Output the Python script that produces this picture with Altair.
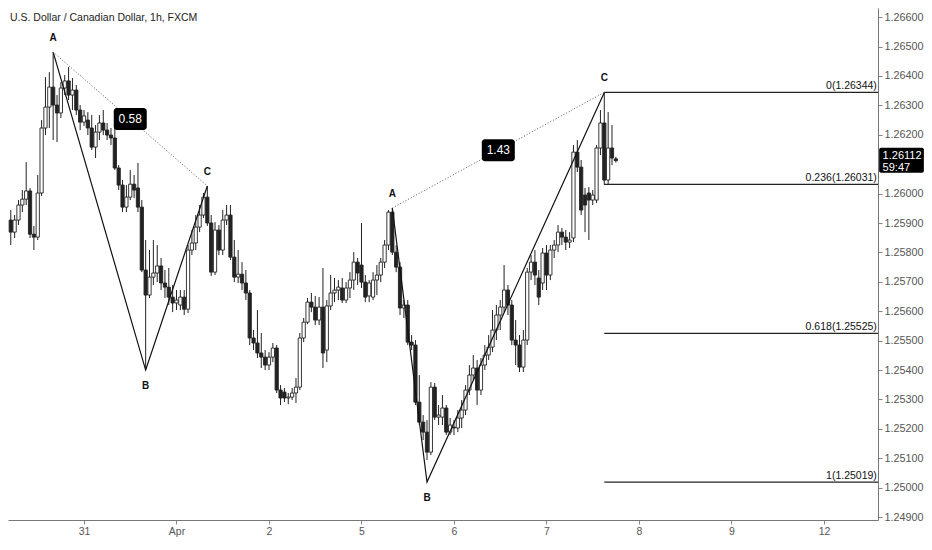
import altair as alt
import pandas as pd

# ---------------- data ----------------
TITLE = "U.S. Dollar / Canadian Dollar, 1h, FXCM"
K0 = 4  # index of first visible hourly candle

opens = [1.25903, 1.25910, 1.25869, 1.25910, 1.25961, 1.25981, 1.26009, 1.25862, 1.25852, 1.26002,
         1.26223, 1.26294, 1.26362, 1.26301, 1.26274, 1.26359, 1.26383, 1.26335, 1.26352, 1.26284,
         1.26243, 1.26250, 1.26223, 1.26158, 1.26209, 1.26240, 1.26216, 1.26199, 1.26189, 1.26087,
         1.26029, 1.25954, 1.25988, 1.26032, 1.26019, 1.25954, 1.25740, 1.25655, 1.25716, 1.25730,
         1.25754, 1.25696, 1.25682, 1.25648, 1.25628, 1.25621, 1.25648, 1.25607, 1.25808, 1.25832,
         1.25886, 1.25927, 1.25988, 1.25900, 1.25733, 1.25876, 1.25808, 1.25910, 1.25927, 1.25784,
         1.25716, 1.25726, 1.25696, 1.25662, 1.25509, 1.25492, 1.25458, 1.25444, 1.25417, 1.25444,
         1.25475, 1.25332, 1.25325, 1.25305, 1.25308, 1.25322, 1.25342, 1.25509, 1.25563, 1.25631,
         1.25614, 1.25570, 1.25614, 1.25468, 1.25618, 1.25662, 1.25672, 1.25679, 1.25638, 1.25679,
         1.25706, 1.25767, 1.25757, 1.25699, 1.25652, 1.25648, 1.25706, 1.25723, 1.25767, 1.25825,
         1.25937, 1.25801, 1.25750, 1.25611, 1.25621, 1.25495, 1.25485, 1.25291, 1.25223, 1.25189,
         1.25121, 1.25342, 1.25240, 1.25240, 1.25271, 1.25189, 1.25206, 1.25203, 1.25237, 1.25264,
         1.25332, 1.25383, 1.25407, 1.25332, 1.25417, 1.25451, 1.25478, 1.25536, 1.25587, 1.25614,
         1.25672, 1.25621, 1.25502, 1.25485, 1.25410, 1.25502, 1.25733, 1.25767, 1.25713, 1.25696,
         1.25798, 1.25723, 1.25808, 1.25825, 1.25869, 1.25852, 1.25835, 1.25849, 1.26141, 1.26090,
         1.25995, 1.26002, 1.25978, 1.25978, 1.26155, 1.26240, 1.26046, 1.26155, 1.26118]

closes = [1.25910, 1.25869, 1.25910, 1.25961, 1.25981, 1.26009, 1.25862, 1.25852, 1.26002, 1.26223,
          1.26294, 1.26362, 1.26301, 1.26274, 1.26359, 1.26383, 1.26335, 1.26352, 1.26284, 1.26243,
          1.26264, 1.26223, 1.26158, 1.26209, 1.26240, 1.26216, 1.26199, 1.26189, 1.26087, 1.26029,
          1.25954, 1.25988, 1.26032, 1.26012, 1.25954, 1.25740, 1.25655, 1.25716, 1.25730, 1.25754,
          1.25696, 1.25682, 1.25648, 1.25628, 1.25638, 1.25648, 1.25607, 1.25808, 1.25832, 1.25886,
          1.25927, 1.25988, 1.25900, 1.25733, 1.25876, 1.25808, 1.25910, 1.25927, 1.25784, 1.25716,
          1.25726, 1.25696, 1.25662, 1.25509, 1.25492, 1.25458, 1.25444, 1.25417, 1.25444, 1.25475,
          1.25332, 1.25305, 1.25305, 1.25308, 1.25322, 1.25342, 1.25509, 1.25563, 1.25631, 1.25614,
          1.25570, 1.25614, 1.25458, 1.25618, 1.25662, 1.25672, 1.25682, 1.25638, 1.25679, 1.25706,
          1.25767, 1.25730, 1.25699, 1.25648, 1.25696, 1.25706, 1.25723, 1.25767, 1.25825, 1.25937,
          1.25801, 1.25750, 1.25611, 1.25621, 1.25495, 1.25485, 1.25291, 1.25223, 1.25189, 1.25121,
          1.25342, 1.25240, 1.25247, 1.25271, 1.25189, 1.25213, 1.25203, 1.25237, 1.25264, 1.25332,
          1.25383, 1.25407, 1.25332, 1.25417, 1.25451, 1.25478, 1.25536, 1.25587, 1.25614, 1.25672,
          1.25621, 1.25502, 1.25485, 1.25410, 1.25502, 1.25733, 1.25767, 1.25723, 1.25648, 1.25798,
          1.25723, 1.25808, 1.25825, 1.25869, 1.25852, 1.25835, 1.25842, 1.26141, 1.26090, 1.25944,
          1.25961, 1.25978, 1.25995, 1.26155, 1.26240, 1.26046, 1.26155, 1.26121, 1.26112]

highs = [1.25995, 1.25944, 1.25927, 1.25978, 1.26012, 1.26107, 1.26019, 1.25890, 1.26063, 1.26250,
         1.26396, 1.26413, 1.26481, 1.26335, 1.26379, 1.26403, 1.26430, 1.26393, 1.26369, 1.26301,
         1.26284, 1.26277, 1.26267, 1.26233, 1.26267, 1.26284, 1.26240, 1.26223, 1.26284, 1.26097,
         1.26046, 1.26029, 1.26080, 1.26063, 1.26104, 1.25978, 1.25842, 1.25808, 1.25842, 1.25825,
         1.25781, 1.25740, 1.25747, 1.25689, 1.25672, 1.25672, 1.25672, 1.25825, 1.25876, 1.25927,
         1.25961, 1.26002, 1.26026, 1.25927, 1.25903, 1.25893, 1.25944, 1.25961, 1.25961, 1.25842,
         1.25808, 1.25767, 1.25740, 1.25672, 1.25536, 1.25604, 1.25526, 1.25468, 1.25461, 1.25492,
         1.25485, 1.25349, 1.25339, 1.25322, 1.25339, 1.25373, 1.25526, 1.25577, 1.25645, 1.25662,
         1.25652, 1.25648, 1.25747, 1.25638, 1.25723, 1.25713, 1.25706, 1.25713, 1.25699, 1.25733,
         1.25801, 1.25781, 1.25900, 1.25723, 1.25706, 1.25733, 1.25757, 1.25781, 1.25842, 1.25944,
         1.25951, 1.25825, 1.25767, 1.25638, 1.25638, 1.25519, 1.25502, 1.25383, 1.25247, 1.25230,
         1.25359, 1.25356, 1.25281, 1.25315, 1.25281, 1.25237, 1.25230, 1.25264, 1.25298, 1.25349,
         1.25417, 1.25451, 1.25434, 1.25441, 1.25485, 1.25519, 1.25604, 1.25621, 1.25638, 1.25757,
         1.25689, 1.25638, 1.25570, 1.25519, 1.25536, 1.25747, 1.25791, 1.25808, 1.25740, 1.25815,
         1.25825, 1.25825, 1.25842, 1.25893, 1.25883, 1.25876, 1.25869, 1.26165, 1.26182, 1.26114,
         1.26019, 1.26022, 1.26012, 1.26165, 1.26284, 1.26344, 1.26277, 1.26233, 1.26125]

lows = [1.25842, 1.25825, 1.25849, 1.25893, 1.25937, 1.25961, 1.25849, 1.25808, 1.25842, 1.25992,
        1.26199, 1.26223, 1.26182, 1.26175, 1.26257, 1.26335, 1.26318, 1.26284, 1.26267, 1.26216,
        1.26230, 1.26199, 1.26148, 1.26121, 1.26182, 1.26199, 1.26182, 1.26165, 1.26080, 1.26012,
        1.25937, 1.25937, 1.25978, 1.25985, 1.25937, 1.25733, 1.25400, 1.25645, 1.25689, 1.25699,
        1.25672, 1.25645, 1.25621, 1.25597, 1.25604, 1.25604, 1.25587, 1.25594, 1.25791, 1.25808,
        1.25869, 1.25917, 1.25890, 1.25720, 1.25723, 1.25791, 1.25791, 1.25893, 1.25774, 1.25699,
        1.25696, 1.25672, 1.25638, 1.25485, 1.25468, 1.25441, 1.25407, 1.25400, 1.25400, 1.25427,
        1.25322, 1.25281, 1.25291, 1.25284, 1.25298, 1.25288, 1.25332, 1.25495, 1.25556, 1.25597,
        1.25553, 1.25553, 1.25407, 1.25427, 1.25604, 1.25631, 1.25638, 1.25628, 1.25628, 1.25645,
        1.25672, 1.25689, 1.25679, 1.25631, 1.25631, 1.25638, 1.25655, 1.25699, 1.25747, 1.25808,
        1.25791, 1.25733, 1.25587, 1.25577, 1.25485, 1.25468, 1.25281, 1.25213, 1.25162, 1.25094,
        1.25111, 1.25230, 1.25213, 1.25213, 1.25179, 1.25179, 1.25179, 1.25189, 1.25203, 1.25247,
        1.25315, 1.25366, 1.25281, 1.25315, 1.25400, 1.25434, 1.25461, 1.25502, 1.25536, 1.25597,
        1.25587, 1.25485, 1.25417, 1.25393, 1.25393, 1.25485, 1.25706, 1.25689, 1.25621, 1.25672,
        1.25672, 1.25706, 1.25781, 1.25801, 1.25825, 1.25808, 1.25815, 1.25835, 1.26073, 1.25927,
        1.25869, 1.25842, 1.25961, 1.25968, 1.26131, 1.26029, 1.26029, 1.26097, 1.26106]

day_ticks = [24, 48, 72, 96, 120, 144, 168, 192, 216]
day_labels = ["31", "Apr", "2", "5", "6", "7", "8", "9", "12"]
price_ticks = [1.249, 1.250, 1.251, 1.252, 1.253, 1.254, 1.255, 1.256, 1.257,
               1.258, 1.259, 1.260, 1.262, 1.263, 1.264, 1.265, 1.266]

pattern_names = ["p1", "p2"]
pattern_k = [[16, 40, 56], [104, 113, 159]]
pattern_price = [[1.26481, 1.25400, 1.26026], [1.25951, 1.25019, 1.26344]]
pattern_letters = ["A", "B", "C"]
ratio_labels = ["0.58", "1.43"]

fib_levels = [0, 0.236, 0.618, 1]
fib_level_text = ["0", "0.236", "0.618", "1"]
last_price_text = "1.26112"
countdown_text = "59:47"

# ---------------- layout constants ----------------
PX_PER_K = 3.854
PX_PER_P = 29412.0
W, H = 870, 512
X_MIN = 4.28
X_MAX = X_MIN + W / PX_PER_K
Y_MAX = 1.26631
Y_MIN = Y_MAX - H / PX_PER_P
K_PER_PX = 1 / PX_PER_K
P_PER_PX = 1 / PX_PER_P
FONT = "Liberation Sans"

xs = alt.Scale(domain=[X_MIN, X_MAX], nice=False, zero=False)
ys = alt.Scale(domain=[Y_MIN, Y_MAX], nice=False, zero=False)

# ---------------- tables ----------------
n = len(opens)
candles = pd.DataFrame({
    "k": list(range(K0, K0 + n)),
    "open": opens, "high": highs, "low": lows, "close": closes,
})
candles = candles[candles["k"] >= 5].reset_index(drop=True)
candles["x1"] = candles["k"] - 0.42
candles["x2"] = candles["k"] + 0.42

prow = []
for name, ks, ps in zip(pattern_names, pattern_k, pattern_price):
    for i, (k, p) in enumerate(zip(ks, ps)):
        prow.append({"pattern": name, "order": i, "k": k, "price": p,
                     "letter": pattern_letters[i]})
pattern_df = pd.DataFrame(prow)
ac_df = pattern_df[pattern_df["order"] != 1]

rrows = []
for name, ks, ps, lab in zip(pattern_names, pattern_k, pattern_price, ratio_labels):
    mk = (ks[0] + ks[2]) / 2
    mp = (ps[0] + ps[2]) / 2
    rrows.append({"k": mk, "price": mp, "label": lab,
                  "x1": mk - 16.5 * K_PER_PX, "x2": mk + 16.5 * K_PER_PX,
                  "y1": mp - 11 * P_PER_PX, "y2": mp + 11 * P_PER_PX})
ratio_df = pd.DataFrame(rrows)

c_k, c_p = pattern_k[1][2], pattern_price[1][2]
b_p = pattern_price[1][1]
fib_df = pd.DataFrame({
    "level": fib_levels,
    "price": [round(c_p - lv * (c_p - b_p), 5) for lv in fib_levels],
})
fib_df["label"] = [f"{t}({p:.5f})" for t, p in zip(fib_level_text, fib_df["price"])]
fib_df["x1"] = c_k
fib_df["x2"] = X_MAX
fib_df["xl"] = X_MAX - 0.3

last_close = closes[-1]
box_df = pd.DataFrame({
    "x1": [X_MAX + 0.3], "x2": [X_MAX + 11.9],
    "y1": [last_close - 12 * P_PER_PX], "y2": [last_close + 13 * P_PER_PX],
})
box_txt = pd.DataFrame({
    "k": [X_MAX + 1.2, X_MAX + 1.2],
    "price": [last_close + 5 * P_PER_PX, last_close - 7 * P_PER_PX],
    "t": [last_price_text, countdown_text],
})

# ---------------- axes ----------------
label_map = "{" + ",".join(f"'{t}':'{l}'" for t, l in zip(day_ticks, day_labels)) + "}"
xaxis = alt.Axis(values=day_ticks, labelExpr=f"{label_map}[datum.value]", grid=False,
                 title=None, tickSize=4, labelPadding=2, labelFontSize=10.5, labelFont=FONT,
                 labelColor="#555", tickColor="#888", domainColor="#777", labelBaseline="top")
yaxis = alt.Axis(orient="right", values=price_ticks, format=".5f", grid=False, title=None,
                 tickSize=4, labelPadding=2, labelFontSize=10.8, labelFont=FONT,
                 labelColor="#555", tickColor="#888", domainColor="#777")

X = lambda f: alt.X(f, scale=xs, axis=xaxis)
Y = lambda f: alt.Y(f, scale=ys, axis=yaxis)

wicks = alt.Chart(candles).mark_rule(color="#222", strokeWidth=1).encode(
    x=X("k:Q"), y=Y("low:Q"), y2="high:Q",
)
bodies = alt.Chart(candles).mark_rect(stroke="#222", strokeWidth=0.9).encode(
    x=X("x1:Q"), x2="x2:Q", y=Y("open:Q"), y2="close:Q",
    fill=alt.condition("datum.close >= datum.open", alt.value("white"), alt.value("#222")),
)

pattern_lines = alt.Chart(pattern_df).mark_line(color="#111", strokeWidth=1.2).encode(
    x=X("k:Q"), y=Y("price:Q"), detail="pattern:N", order="order:Q")
ac_lines = alt.Chart(ac_df).mark_line(color="#555", strokeWidth=1, strokeDash=[1, 2]).encode(
    x=X("k:Q"), y=Y("price:Q"), detail="pattern:N", order="order:Q")

letters_up = alt.Chart(pattern_df[pattern_df["order"] != 1]).mark_text(
    dy=-14, fontSize=10, fontWeight="bold", font=FONT, color="#111").encode(
    x=X("k:Q"), y=Y("price:Q"), text="letter:N")
letters_dn = alt.Chart(pattern_df[pattern_df["order"] == 1]).mark_text(
    dy=16, fontSize=10, fontWeight="bold", font=FONT, color="#111").encode(
    x=X("k:Q"), y=Y("price:Q"), text="letter:N")

ratio_box = alt.Chart(ratio_df).mark_rect(color="#000", cornerRadius=3).encode(
    x=X("x1:Q"), x2="x2:Q", y=Y("y1:Q"), y2="y2:Q")
ratio_txt = alt.Chart(ratio_df).mark_text(color="white", fontSize=12, font=FONT).encode(
    x=X("k:Q"), y=Y("price:Q"), text="label:N")

fib_lines = alt.Chart(fib_df).mark_rule(color="#222", strokeWidth=1.2).encode(
    x=X("x1:Q"), x2="x2:Q", y=Y("price:Q"))
fib_txt = alt.Chart(fib_df).mark_text(align="right", baseline="bottom", dy=-1,
                                      fontSize=10.5, font=FONT, color="#111").encode(
    x=X("xl:Q"), y=Y("price:Q"), text="label:N")

pbox = alt.Chart(box_df).mark_rect(color="#000", cornerRadius=2).encode(
    x=X("x1:Q"), x2="x2:Q", y=Y("y1:Q"), y2="y2:Q")
pbox_txt = alt.Chart(box_txt).mark_text(align="left", color="white", fontSize=11, font=FONT).encode(
    x=X("k:Q"), y=Y("price:Q"), text="t:N")

chart = alt.layer(
    wicks, bodies, pattern_lines, ac_lines, fib_lines, fib_txt,
    ratio_box, ratio_txt, letters_up, letters_dn, pbox, pbox_txt,
).properties(
    width=W, height=H,
    background="white",
    autosize=alt.AutoSizeParams(type="none"),
    padding={"left": 0, "top": 0, "right": 46, "bottom": 18},
    title=alt.TitleParams(TITLE, anchor="start", offset=-15, dx=2, fontSize=10.5,
                          fontWeight="normal", font=FONT, color="#222"),
).configure_view(stroke=None)

chart.save("out.html", embed_options={"renderer": "svg", "actions": False})
